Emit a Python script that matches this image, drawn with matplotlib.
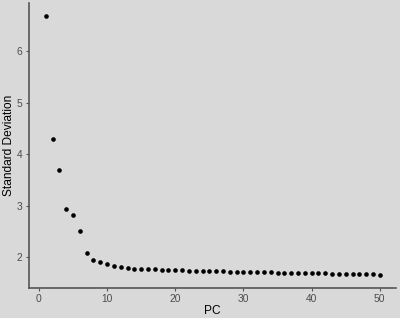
import matplotlib
matplotlib.use("Agg")
import matplotlib.pyplot as plt

# standard deviation of each principal component
pcs = list(range(1, 51))
sdev = [6.68, 4.29, 3.69, 2.93, 2.82, 2.51, 2.09, 1.95, 1.90, 1.87,
        1.83, 1.81, 1.79, 1.78, 1.77, 1.77, 1.765, 1.76, 1.755, 1.75,
        1.745, 1.74, 1.738, 1.735, 1.732, 1.73, 1.727, 1.724, 1.72, 1.717,
        1.715, 1.712, 1.71, 1.707, 1.705, 1.702, 1.70, 1.697, 1.694, 1.691,
        1.689, 1.686, 1.684, 1.681, 1.679, 1.676, 1.673, 1.671, 1.668, 1.665]

plt.rcParams['font.family'] = ['Liberation Sans', 'DejaVu Sans']

bg = "#d9d9d9"
fig = plt.figure(figsize=(4, 3.18), dpi=100, facecolor=bg)
ax = fig.add_axes([29 / 400, 30.5 / 318, 367.5 / 400, 284.5 / 318])
ax.set_facecolor(bg)

ax.scatter(pcs, sdev, s=11, color="black", linewidths=0, zorder=3)

# ggplot style expansion of 5%
xr = max(pcs) - min(pcs)
ax.set_xlim(min(pcs) - 0.05 * xr, max(pcs) + 0.05 * xr)
yr = max(sdev) - min(sdev)
ax.set_ylim(min(sdev) - 0.05 * yr, max(sdev) + 0.05 * yr)

ax.set_xticks([0, 10, 20, 30, 40, 50])
ax.set_yticks([2, 3, 4, 5, 6])

for side in ["top", "right"]:
    ax.spines[side].set_visible(False)
for side in ["left", "bottom"]:
    ax.spines[side].set_color("#555555")
    ax.spines[side].set_linewidth(1.2)

ax.tick_params(colors="#555555", labelcolor="#4d4d4d", labelsize=7.4,
               length=2.5, width=0.8, pad=2)
ax.set_xlabel("PC", fontsize=8.6, labelpad=1)
ax.set_ylabel("Standard Deviation", fontsize=8.6, labelpad=1.5)

fig.savefig("out.png", dpi=100, facecolor=bg)
